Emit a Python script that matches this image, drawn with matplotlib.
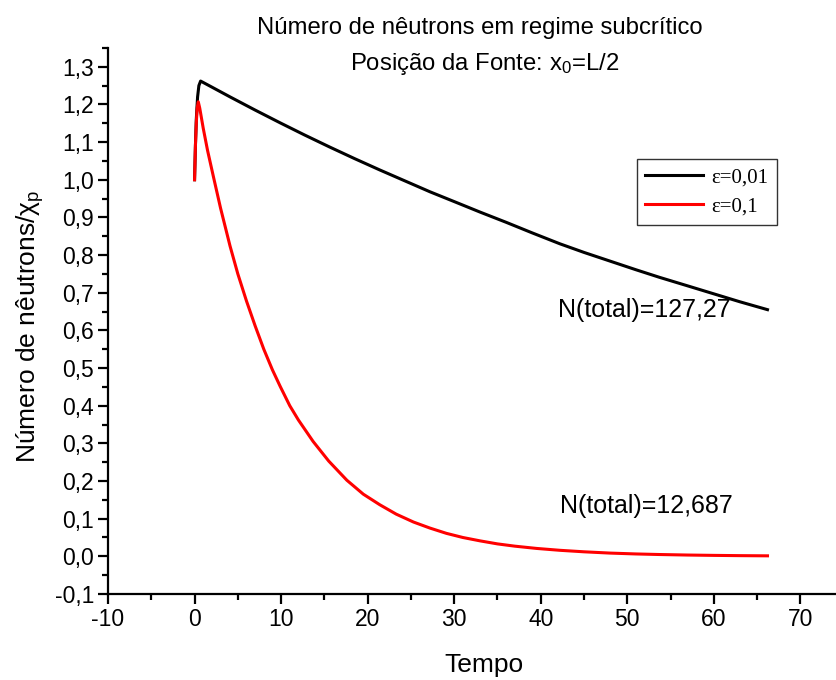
import matplotlib
matplotlib.use("Agg")
from matplotlib import pyplot as plt
from matplotlib.ticker import MultipleLocator, FuncFormatter

plt.rcParams['font.family'] = ['Liberation Sans', 'DejaVu Sans']
plt.rcParams['mathtext.fontset'] = 'custom'
plt.rcParams['mathtext.rm'] = 'Liberation Sans'
plt.rcParams['mathtext.it'] = 'Liberation Sans'
plt.rcParams['axes.unicode_minus'] = False

# epsilon = 0.01
t_eps001 = [0.0, 0.1, 0.2, 0.35, 0.5, 0.7, 2.0, 4.1, 7.0, 9.9, 12.7, 15.6, 18.5, 21.4, 24.3,
            27.2, 30.0, 33.0, 36.0, 39.0, 42.2, 45.0, 48.0, 51.0, 53.7, 57.0, 60.0, 63.0, 66.2]
n_eps001 = [1.00, 1.09, 1.16, 1.22, 1.25, 1.262, 1.246, 1.220, 1.185, 1.151, 1.119, 1.087, 1.056,
            1.026, 0.997, 0.968, 0.942, 0.914, 0.887, 0.859, 0.830, 0.807, 0.784, 0.761, 0.741,
            0.718, 0.697, 0.676, 0.655]

# epsilon = 0.1
t_eps01 = [0.0, 0.1, 0.2, 0.3, 0.43, 0.6, 1.0, 1.5, 2.16, 3.0, 4.1, 5.0, 6.0, 7.0, 8.0, 9.0,
           9.9, 11.0, 12.0, 13.7, 15.5, 17.6, 19.5, 21.4, 23.3, 25.3, 27.2, 29.1, 31.0, 33.0,
           35.0, 37.0, 39.5, 42.2, 45.0, 48.0, 51.0, 53.7, 57.0, 60.0, 63.0, 66.2]
n_eps01 = [1.00, 1.09, 1.15, 1.19, 1.207, 1.19, 1.137, 1.078, 1.010, 0.925, 0.824, 0.750, 0.678,
           0.612, 0.550, 0.495, 0.451, 0.400, 0.362, 0.305, 0.253, 0.202, 0.165, 0.137, 0.112,
           0.091, 0.075, 0.061, 0.050, 0.041, 0.033, 0.027, 0.021, 0.016, 0.012, 0.0086, 0.0063,
           0.0048, 0.0034, 0.0025, 0.0018, 0.0013]

labels = ["ε=0,01", "ε=0,1"]
totals = ["N(total)=127,27", "N(total)=12,687"]

fig = plt.figure(figsize=(8.36, 6.8), dpi=100)
ax = fig.add_axes([0.1292, 0.1265, 0.8696, 0.803])

ax.plot(t_eps001, n_eps001, color='black', lw=2.2, label=labels[0])
ax.plot(t_eps01, n_eps01, color='red', lw=2.2, label=labels[1])

ax.set_xlim(-10, 74)
ax.set_ylim(-0.1, 1.35)
ax.spines['top'].set_visible(False)
ax.spines['right'].set_visible(False)
for s in ('left', 'bottom'):
    ax.spines[s].set_linewidth(1.6)

ax.xaxis.set_major_locator(MultipleLocator(10))
ax.xaxis.set_minor_locator(MultipleLocator(5))
ax.yaxis.set_major_locator(MultipleLocator(0.1))
ax.yaxis.set_minor_locator(MultipleLocator(0.05))
ax.yaxis.set_major_formatter(FuncFormatter(lambda v, p: f"{v:.1f}".replace('.', ',').replace('-0,0', '0,0')))
ax.tick_params(which='major', direction='out', length=7, width=1.6, labelsize=16.5, pad=3)
ax.tick_params(which='minor', direction='out', length=4, width=1.6)

ax.text(52.0, 0.655, totals[0], fontsize=18, ha='center', va='center')
ax.text(52.2, 0.134, totals[1], fontsize=18, ha='center', va='center')

leg = ax.legend(loc='upper left', bbox_to_anchor=(0.7616, 0.7657), bbox_transform=fig.transFigure,
                prop={'family': 'Liberation Serif', 'size': 15}, frameon=True, fancybox=False,
                edgecolor='black', handlelength=2.8, borderpad=0.4, labelspacing=0.45,
                handletextpad=0.4, borderaxespad=0)
leg.get_frame().set_linewidth(1.0)

fig.text(0.574, 0.959, "Número de nêutrons em regime subcrítico", fontsize=17.2, ha='center', va='center')
fig.text(0.58, 0.906, "Posição da Fonte: x$_\\mathrm{0}$=L/2", fontsize=17.2, ha='center', va='center')
fig.text(0.036, 0.52, "Número de nêutrons/χ$_\\mathrm{p}$", fontsize=19, rotation=90, ha='center', va='center')
fig.text(0.579, 0.022, "Tempo", fontsize=19, ha='center', va='center')

fig.savefig("out.png", dpi=100)
